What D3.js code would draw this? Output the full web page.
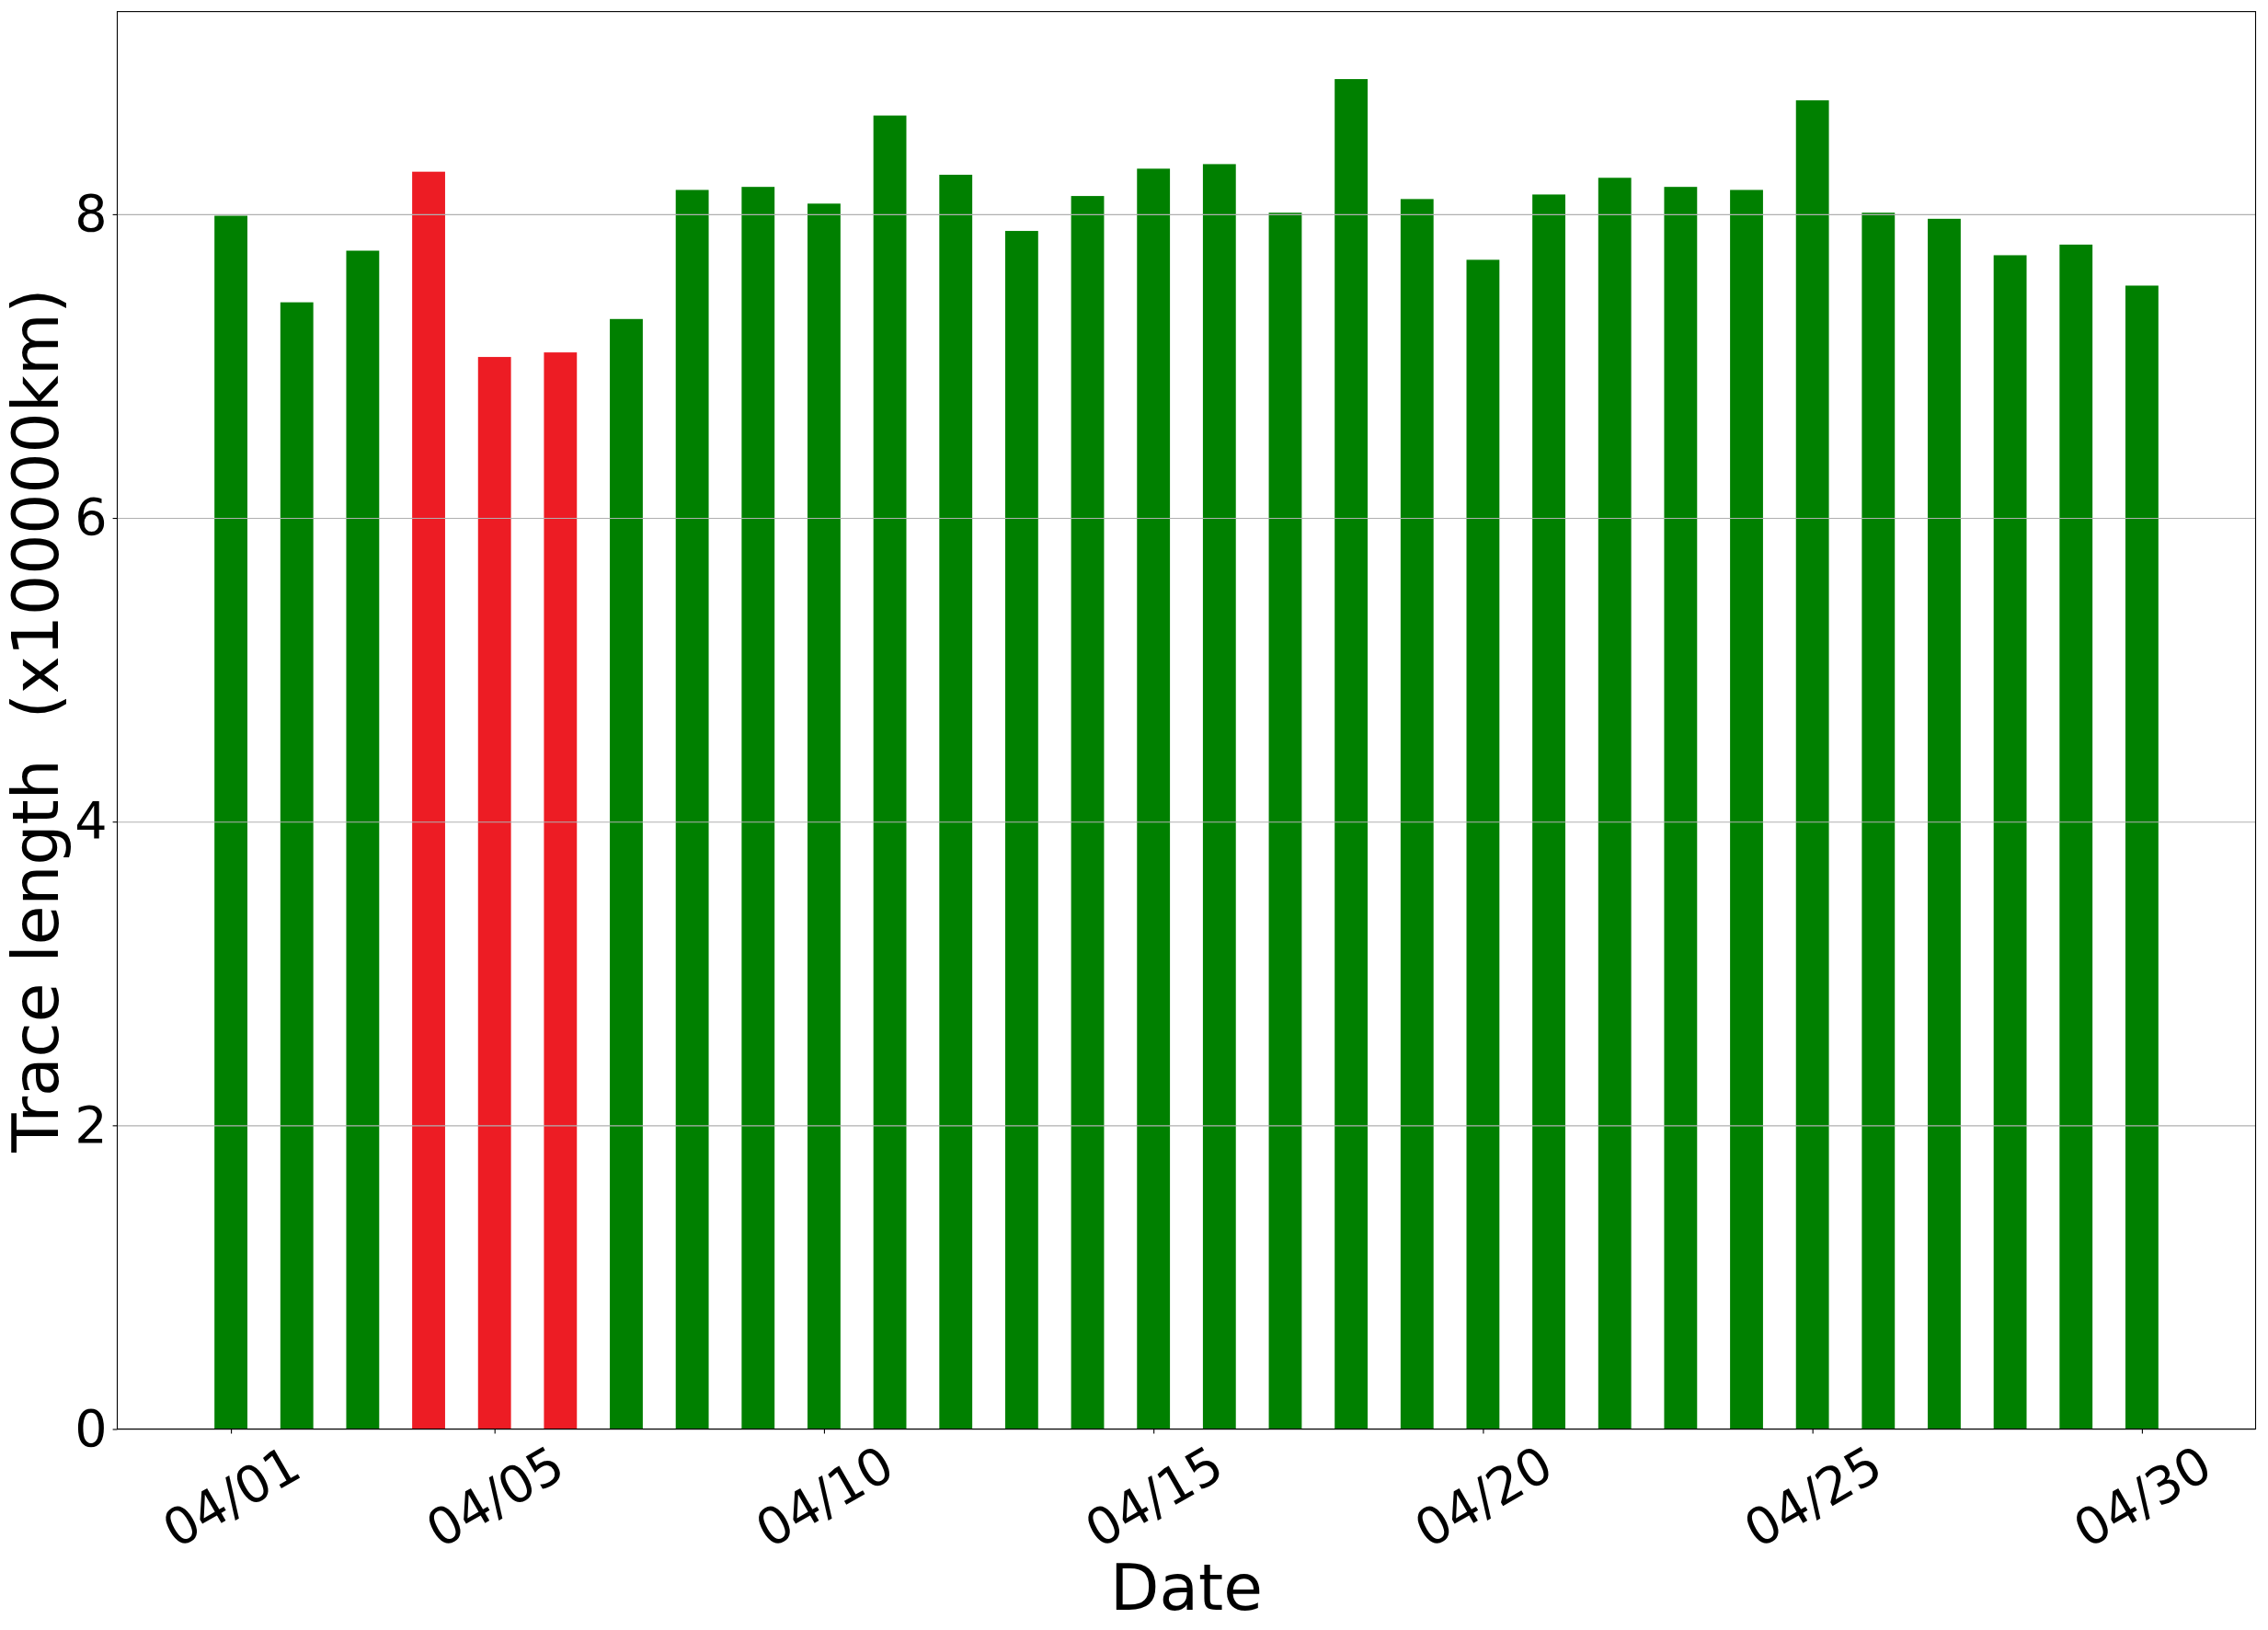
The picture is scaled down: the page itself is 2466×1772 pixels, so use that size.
<!DOCTYPE html>
<html>
<head>
<meta charset="utf-8">
<script src="https://cdn.jsdelivr.net/npm/d3@7"></script>
<style>
  body { margin: 0; background: #fff; }
  svg { display: block; font-family: "DejaVu Sans", sans-serif; }
</style>
</head>
<body>
<div id="chart"></div>
<script>
// Daily dates shown on the x axis
const dates = [
    '2020-04-01', '2020-04-02', '2020-04-03', '2020-04-04', '2020-04-05',
    '2020-04-06', '2020-04-07', '2020-04-08', '2020-04-09', '2020-04-10',
    '2020-04-11', '2020-04-12', '2020-04-13', '2020-04-14', '2020-04-15',
    '2020-04-16', '2020-04-17', '2020-04-18', '2020-04-19', '2020-04-20',
    '2020-04-21', '2020-04-22', '2020-04-23', '2020-04-24', '2020-04-25',
    '2020-04-26', '2020-04-27', '2020-04-28', '2020-04-29', '2020-04-30'
];

// Trace length per day (x100000 km)
const traceLength = [
    7.99, 7.42, 7.76, 8.28, 7.06, 7.09, 7.31, 8.16, 8.18, 8.07,
    8.65, 8.26, 7.89, 8.12, 8.30, 8.33, 8.01, 8.89, 8.10, 7.70,
    8.13, 8.24, 8.18, 8.16, 8.75, 8.01, 7.97, 7.73, 7.80, 7.53
];

// Days drawn in red
const redDates = ['2020-04-04', '2020-04-05', '2020-04-06'];

// Tick labels
const xTickDates = ['2020-04-01', '2020-04-05', '2020-04-10', '2020-04-15', '2020-04-20', '2020-04-25', '2020-04-30'];
const yTicks = [0, 2, 4, 6, 8];

const parse = d3.utcParse('%Y-%m-%d');
const fmt = d3.utcFormat('%m/%d');
const DAY = 24 * 3600 * 1000;

const data = dates.map((d, i) => ({
    date: parse(d),
    value: traceLength[i],
    red: redDates.includes(d)
}));

const W = 2466, H = 1772;
const margin = {top: 12.6, right: 13.5, bottom: 218.5, left: 127.5};
const width = W - margin.left - margin.right;
const height = H - margin.top - margin.bottom;

const svg = d3.select('#chart')
    .append('svg')
    .attr('width', W)
    .attr('height', H);

const g = svg.append('g')
    .attr('transform', `translate(${margin.left},${margin.top})`);

// matplotlib style autoscale: 5% margin around bar extents
const first = data[0].date.getTime() - 0.25 * DAY;
const last = data[data.length - 1].date.getTime() + 0.25 * DAY;
const pad = (last - first) * 0.05;

const x = d3.scaleUtc()
    .domain([new Date(first - pad), new Date(last + pad)])
    .range([0, width]);

const y = d3.scaleLinear()
    .domain([0, d3.max(traceLength) * 1.05])
    .range([height, 0]);

// Bars
g.selectAll('.bar')
    .data(data)
    .enter().append('rect')
    .attr('class', 'bar')
    .attr('x', d => x(new Date(d.date.getTime() - 0.25 * DAY)))
    .attr('width', d => x(new Date(d.date.getTime() + 0.25 * DAY)) - x(new Date(d.date.getTime() - 0.25 * DAY)))
    .attr('y', d => y(d.value))
    .attr('height', d => height - y(d.value))
    .attr('fill', d => d.red ? '#ed1c24' : '#008000');

// Horizontal grid lines (drawn over the bars)
g.append('g')
    .attr('class', 'grid')
    .call(d3.axisLeft(y).tickValues(yTicks).tickSize(-width).tickFormat(''))
    .call(s => s.select('.domain').remove())
    .selectAll('line')
    .attr('stroke', '#b0b0b0')
    .attr('stroke-width', 1.1);

// Y axis
const yAxis = g.append('g')
    .call(d3.axisLeft(y).tickValues(yTicks).tickSize(4.9).tickPadding(6).tickFormat(d3.format('d')));
yAxis.select('.domain').remove();
yAxis.selectAll('line').attr('stroke-width', 1.1);
yAxis.selectAll('text')
    .attr('font-size', 55.6)
    .attr('font-family', '"DejaVu Sans", sans-serif')
    .attr('fill', '#000');

// X axis
const xAxis = g.append('g')
    .attr('transform', `translate(0,${height})`)
    .call(d3.axisBottom(x).tickValues(xTickDates.map(parse)).tickSize(4.9).tickFormat(fmt));
xAxis.select('.domain').remove();
xAxis.selectAll('line').attr('stroke-width', 1.1);
xAxis.selectAll('text')
    .attr('font-size', 55.6)
    .attr('font-family', '"DejaVu Sans", sans-serif')
    .attr('fill', '#000')
    .attr('text-anchor', 'middle')
    .attr('y', 0)
    .attr('dy', '0.35em')
    .attr('transform', 'translate(0,73.5) rotate(-30)');

// Frame
g.append('rect')
    .attr('width', width)
    .attr('height', height)
    .attr('fill', 'none')
    .attr('stroke', '#000')
    .attr('stroke-width', 1.1);

// Axis labels
svg.append('text')
    .attr('x', margin.left + width / 2)
    .attr('y', 1750)
    .attr('text-anchor', 'middle')
    .attr('font-size', 69.4)
    .text('Date');

svg.append('text')
    .attr('transform', `translate(63,${margin.top + height / 2}) rotate(-90)`)
    .attr('text-anchor', 'middle')
    .attr('font-size', 69.4)
    .attr('xml:space', 'preserve')
    .style('white-space', 'pre')
    .text('Trace length  (x100000km)');
</script>
</body>
</html>
